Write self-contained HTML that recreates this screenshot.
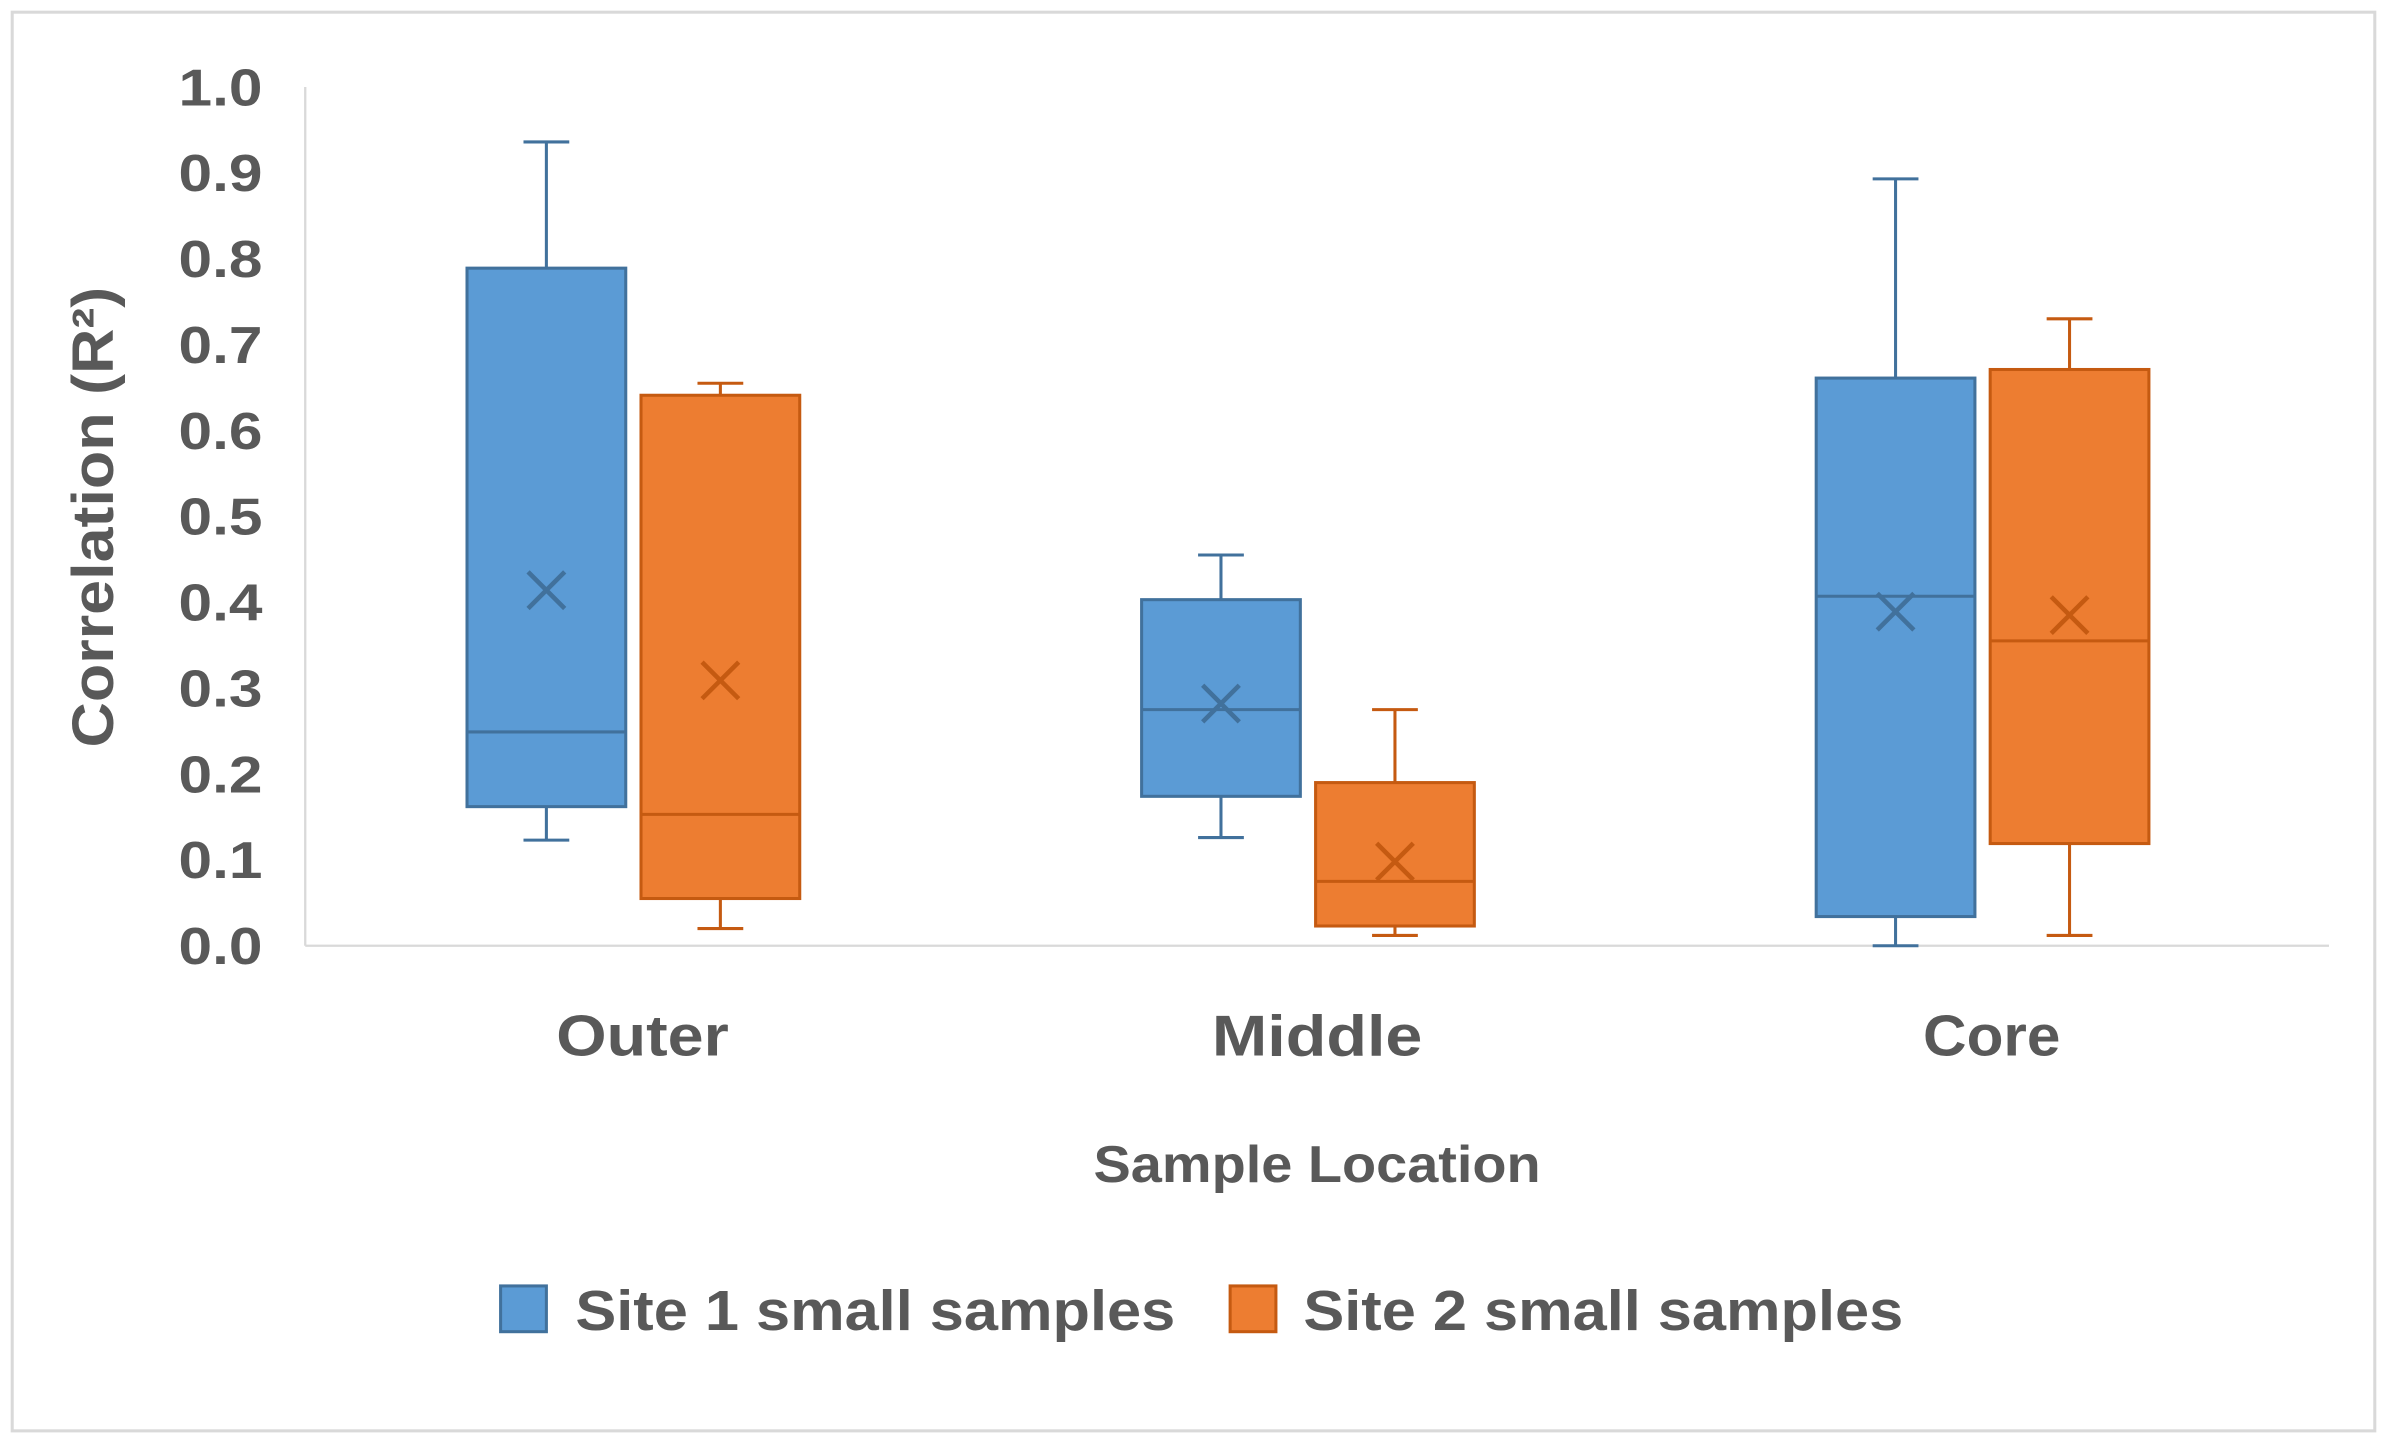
<!DOCTYPE html>
<html><head><meta charset="utf-8"><style>
html,body{margin:0;padding:0;background:#fff;}
svg{display:block;font-family:"Liberation Sans","DejaVu Sans",sans-serif;}
</style></head><body>
<svg id="chart" width="2387" height="1440" viewBox="0 0 1564 944" preserveAspectRatio="none" xmlns="http://www.w3.org/2000/svg">
<rect x="8" y="8" width="1548" height="930" fill="#fff" stroke="#d9d9d9" stroke-width="2"/>
<g id="axes"></g>
<g id="boxes"></g>
<text transform="translate(74,339) rotate(-90)" text-anchor="middle" font-size="38" font-weight="bold" fill="#595959" textLength="302" lengthAdjust="spacingAndGlyphs">Correlation (R²)</text>
<text x="863" y="775" text-anchor="middle" font-size="34" font-weight="bold" fill="#595959" textLength="293" lengthAdjust="spacingAndGlyphs">Sample Location</text>
<g>
<rect x="328" y="843" width="30" height="30" fill="#5b9bd5" stroke="#41719c" stroke-width="2"/>
<text x="377" y="872" font-size="37" font-weight="bold" fill="#595959" textLength="393" lengthAdjust="spacingAndGlyphs">Site 1 small samples</text>
<rect x="806" y="843" width="30" height="30" fill="#ed7d31" stroke="#c55a11" stroke-width="2"/>
<text x="854" y="872" font-size="37" font-weight="bold" fill="#595959" textLength="393" lengthAdjust="spacingAndGlyphs">Site 2 small samples</text>
</g>
</svg>
<script>
const categories = ["Outer","Middle","Core"];
const yTicks = ["0.0","0.1","0.2","0.3","0.4","0.5","0.6","0.7","0.8","0.9","1.0"];
const s1Min = [0.123,0.126,0.0];
const s1Q1 = [0.162,0.174,0.034];
const s1Median = [0.249,0.275,0.407];
const s1Q3 = [0.789,0.403,0.661];
const s1Max = [0.936,0.455,0.893];
const s1Mean = [0.414,0.282,0.389];
const s2Min = [0.020,0.012,0.012];
const s2Q1 = [0.055,0.023,0.119];
const s2Median = [0.153,0.075,0.355];
const s2Q3 = [0.641,0.190,0.671];
const s2Max = [0.655,0.275,0.730];
const s2Mean = [0.309,0.098,0.385];

const NS="http://www.w3.org/2000/svg";
const X0=200,X1=1526,Y0=620,Y1=57;
function y(v){return Y0-(v/1.0)*(Y0-Y1);}
function xc(i){return X0+(i+0.5)*(X1-X0)/categories.length;}
function mk(tag,attrs,parent){const e=document.createElementNS(NS,tag);for(const k in attrs)e.setAttribute(k,attrs[k]);parent.appendChild(e);return e;}
const axes=document.getElementById('axes'), boxes=document.getElementById('boxes');
let l=mk('line',{x1:X0,y1:Y1,x2:X0,y2:Y0,stroke:'#d9d9d9','stroke-width':1.5},axes);


l=mk('line',{x1:X0,y1:Y0,x2:X1,y2:Y0,stroke:'#d9d9d9','stroke-width':1.5},axes);


yTicks.forEach(t=>{
  const e=mk('text',{x:172,y:y(parseFloat(t))+12,'text-anchor':'end','font-size':34,'font-weight':'bold',fill:'#595959',textLength:55,lengthAdjust:'spacingAndGlyphs'},axes);
  e.textContent=t;
  
  
});
const catW=[113,138,90];
categories.forEach((c,i)=>{
  const e=mk('text',{x:xc(i),y:692,'text-anchor':'middle','font-size':38,'font-weight':'bold',fill:'#595959',textLength:catW[i],lengthAdjust:'spacingAndGlyphs'},axes);
  e.textContent=c;
  
  
});
function drawBox(cx,mn,q1,md,q3,mx,mean,fill,stroke,name){
  const g=mk('g',{},boxes);
  
  
  const w=104,cap=30;
  mk('line',{x1:cx,y1:y(mx),x2:cx,y2:y(q3),stroke:stroke,'stroke-width':2},g);
  mk('line',{x1:cx-cap/2,y1:y(mx),x2:cx+cap/2,y2:y(mx),stroke:stroke,'stroke-width':2},g);
  mk('line',{x1:cx,y1:y(q1),x2:cx,y2:y(mn),stroke:stroke,'stroke-width':2},g);
  mk('line',{x1:cx-cap/2,y1:y(mn),x2:cx+cap/2,y2:y(mn),stroke:stroke,'stroke-width':2},g);
  mk('rect',{x:cx-w/2,y:y(q3),width:w,height:y(q1)-y(q3),fill:fill,stroke:stroke,'stroke-width':2},g);
  mk('line',{x1:cx-w/2,y1:y(md),x2:cx+w/2,y2:y(md),stroke:stroke,'stroke-width':2},g);
  const m=y(mean),s=12;
  mk('path',{d:`M${cx-s},${m-s}L${cx+s},${m+s}M${cx-s},${m+s}L${cx+s},${m-s}`,stroke:stroke,'stroke-width':3,fill:'none'},g);
}
categories.forEach((c,i)=>{
  drawBox(xc(i)-63,s1Min[i],s1Q1[i],s1Median[i],s1Q3[i],s1Max[i],s1Mean[i],'#5b9bd5','#41719c','box-site1-'+c.toLowerCase());
  drawBox(xc(i)+51,s2Min[i],s2Q1[i],s2Median[i],s2Q3[i],s2Max[i],s2Mean[i],'#ed7d31','#c55a11','box-site2-'+c.toLowerCase());
});
</script>
</body></html>
